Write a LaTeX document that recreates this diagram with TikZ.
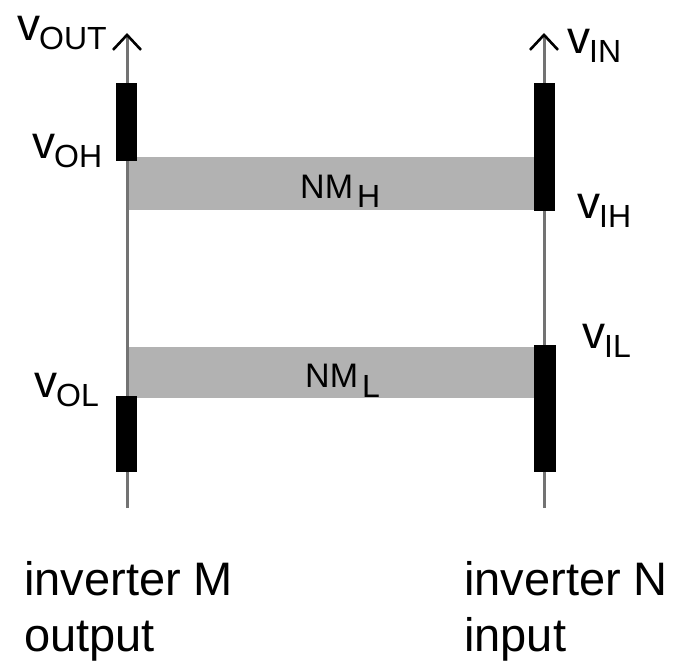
\documentclass[tikz,border=0pt]{standalone}
\usepackage{fontspec}
\setmainfont{Liberation Sans}
\usetikzlibrary{arrows.meta}
\newcommand{\bigf}{\fontsize{46}{46}\selectfont}
\newcommand{\subf}{\fontsize{32}{32}\selectfont}
\newcommand{\nmf}{\fontsize{34}{34}\selectfont}
\newcommand{\vlab}[1]{{\bigf v}\kern-1pt\raisebox{-9pt}{\subf #1}}
\begin{document}
\begin{tikzpicture}[x=1pt,y=-1pt,
  axisline/.style={draw=black!55,line width=3pt,
    -{Straight Barb[length=15pt,width=28pt,line width=2.6pt,color=black]}},
  band/.style={fill=black!30,draw=none},
  bar/.style={fill=black,draw=none},
  lab/.style={inner sep=0pt,anchor=base west},
  bottomtext/.style={inner sep=0pt,anchor=north west,align=left,
    font=\fontsize{47}{56}\selectfont}]
\useasboundingbox (0,0) rectangle (678,664);
% noise margin bands
\fill[band] (127,157) rectangle (534,210);
\fill[band] (127,347) rectangle (534,398);
% axes
\coordinate (Lbot) at (127,508);
\coordinate (Ltop) at (127,33);
\coordinate (Rbot) at (544,508);
\coordinate (Rtop) at (544,33);
\draw[axisline] (Lbot) -- (Ltop);
\draw[axisline] (Rbot) -- (Rtop);
% bars
\fill[bar] (116,83) rectangle (137,161);
\fill[bar] (116,396) rectangle (137,472);
\fill[bar] (534,83) rectangle (555,211);
\fill[bar] (534,345) rectangle (556,472);
% labels
\node[lab] (vout) at (17,40) {\vlab{OUT}};
\node[lab] (voh) at (32,158) {\vlab{OH}};
\node[lab] (vol) at (34,397) {\vlab{OL}};
\node[lab] (vin) at (567,53) {\vlab{IN}};
\node[lab] (vih) at (577,218) {\vlab{IH}};
\node[lab] (vil) at (582,348) {\vlab{IL}};
\node[lab] (nmh) at (300,198) {{\nmf NM}\kern4pt\raisebox{-9pt}{\subf H}};
\node[lab] (nml) at (305,387) {{\nmf NM}\kern4pt\raisebox{-10pt}{\subf L}};
\node[bottomtext] (invM) at (24,561) {inverter M\\output};
\node[bottomtext] (invN) at (464,561) {inverter N\\input};
\end{tikzpicture}
\end{document}
